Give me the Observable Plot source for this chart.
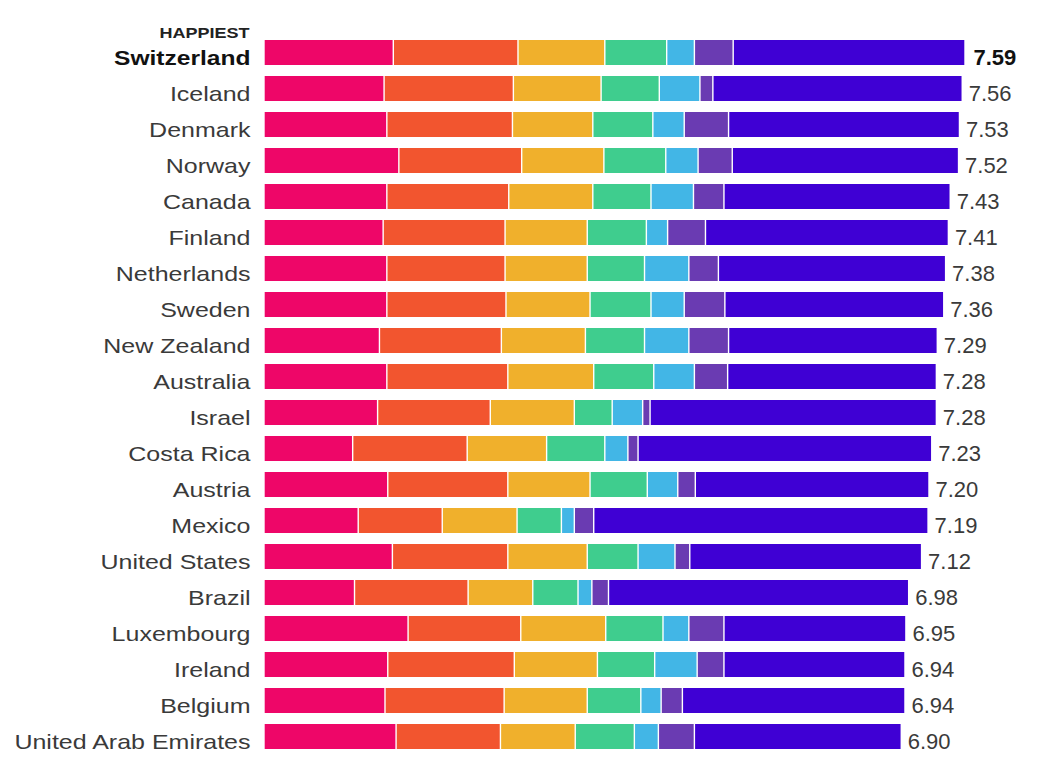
<!DOCTYPE html>
<html>
<head>
<meta charset="utf-8">
<script src="https://cdn.jsdelivr.net/npm/d3@7"></script>
<script src="https://cdn.jsdelivr.net/npm/@observablehq/plot@0.6"></script>
<style>
  html, body { margin: 0; padding: 0; background: #fff; }
  svg { display: block; }
</style>
</head>
<body>
<script>
const countries = ["Switzerland","Iceland","Denmark","Norway","Canada","Finland","Netherlands","Sweden","New Zealand","Australia","Israel","Costa Rica","Austria","Mexico","United States","Brazil","Luxembourg","Ireland","Belgium","United Arab Emirates"];
const scoreLabels = ["7.59","7.56","7.53","7.52","7.43","7.41","7.38","7.36","7.29","7.28","7.28","7.23","7.20","7.19","7.12","6.98","6.95","6.94","6.94","6.90"];

const factors = ["GDP per capita","Social support","Healthy life expectancy","Freedom","Generosity","Trust","Dystopia + residual"];
const colors  = ["#ee0668","#f2552f","#f0b02c","#3fcd8e","#42b6e6","#6a3bb2","#3f00d4"];

const gdp        = [1.40,1.30,1.33,1.46,1.33,1.29,1.33,1.33,1.25,1.33,1.23,0.96,1.34,1.02,1.39,0.98,1.56,1.34,1.31,1.43];
const social     = [1.35,1.40,1.36,1.33,1.32,1.32,1.28,1.29,1.32,1.31,1.22,1.24,1.30,0.91,1.25,1.23,1.22,1.37,1.29,1.13];
const health     = [0.94,0.95,0.87,0.89,0.91,0.89,0.89,0.91,0.91,0.93,0.91,0.86,0.89,0.81,0.86,0.70,0.92,0.90,0.90,0.81];
const freedom    = [0.67,0.63,0.65,0.67,0.63,0.64,0.62,0.66,0.64,0.65,0.41,0.63,0.62,0.48,0.55,0.49,0.62,0.62,0.58,0.64];
const generosity = [0.30,0.44,0.34,0.35,0.46,0.23,0.48,0.36,0.48,0.44,0.33,0.25,0.33,0.14,0.40,0.15,0.28,0.46,0.22,0.26];
const trust      = [0.42,0.14,0.48,0.37,0.33,0.41,0.32,0.44,0.43,0.36,0.08,0.11,0.19,0.21,0.16,0.18,0.38,0.29,0.23,0.39];
const dystopia   = [2.51,2.70,2.50,2.45,2.45,2.63,2.46,2.37,2.26,2.26,3.10,3.18,2.53,3.62,2.51,3.25,1.97,1.96,2.41,2.24];

const series = [gdp, social, health, freedom, generosity, trust, dystopia];
const rows = [];
countries.forEach((c, i) => {
  series.forEach((s, j) => rows.push({country: c, factor: factors[j], value: s[i]}));
});
const labelRows = countries.map((c, i) => ({country: c, label: scoreLabels[i], total: +scoreLabels[i]}));
const firstRow = labelRows.slice(0, 1);
const otherRows = labelRows.slice(1);

const font = "'Liberation Sans', Arial, Helvetica, sans-serif";

const chart = Plot.plot({
  width: 1063,
  height: 773,
  marginLeft: 264,
  marginRight: 98,
  marginTop: 34,
  marginBottom: 18,
  style: {fontFamily: font, background: "#fff"},
  x: {domain: [0, 7.59], axis: null},
  y: {domain: countries, paddingInner: 0.3, paddingOuter: 0.15, axis: null},
  color: {domain: factors, range: colors},
  marks: [
    Plot.barX(rows, {x: "value", y: "country", fill: "factor", order: factors, insetLeft: 0.7, insetRight: 0.7}),
    Plot.text(otherRows, {x: () => 0, y: "country", text: "country", textAnchor: "end", dx: -14, dy: 5, fontSize: 21, fill: "#3a3a3a"}),
    Plot.text(firstRow, {x: () => 0, y: "country", text: "country", textAnchor: "end", dx: -14, dy: 5, fontSize: 21, fontWeight: "bold", fill: "#111"}),
    Plot.text(["HAPPIEST"], {x: () => 0, y: () => "Switzerland", text: d => d, textAnchor: "end", dx: -15, dy: -20, fontSize: 15, fontWeight: "bold", fill: "#222"}),
    Plot.text(otherRows, {x: "total", y: "country", text: "label", textAnchor: "start", dx: 6, dy: 5, fontSize: 22, fill: "#3a3a3a"}),
    Plot.text(firstRow, {x: "total", y: "country", text: "label", textAnchor: "start", dx: 8, dy: 5, fontSize: 22, fontWeight: "bold", fill: "#111"})
  ]
});

document.body.append(chart);

// widen the left-hand labels to the proportions of the reference lettering
const textGroups = chart.querySelectorAll('g[aria-label="text"]');
function stretch(group, factor) {
  if (!group) return;
  group.querySelectorAll("text").forEach(t => {
    const w = t.getComputedTextLength();
    if (w > 0) {
      t.setAttribute("textLength", (w * factor).toFixed(1));
      t.setAttribute("lengthAdjust", "spacingAndGlyphs");
    }
  });
}
stretch(textGroups[0], 1.19);
stretch(textGroups[1], 1.17);
stretch(textGroups[2], 1.2);
</script>
</body>
</html>
